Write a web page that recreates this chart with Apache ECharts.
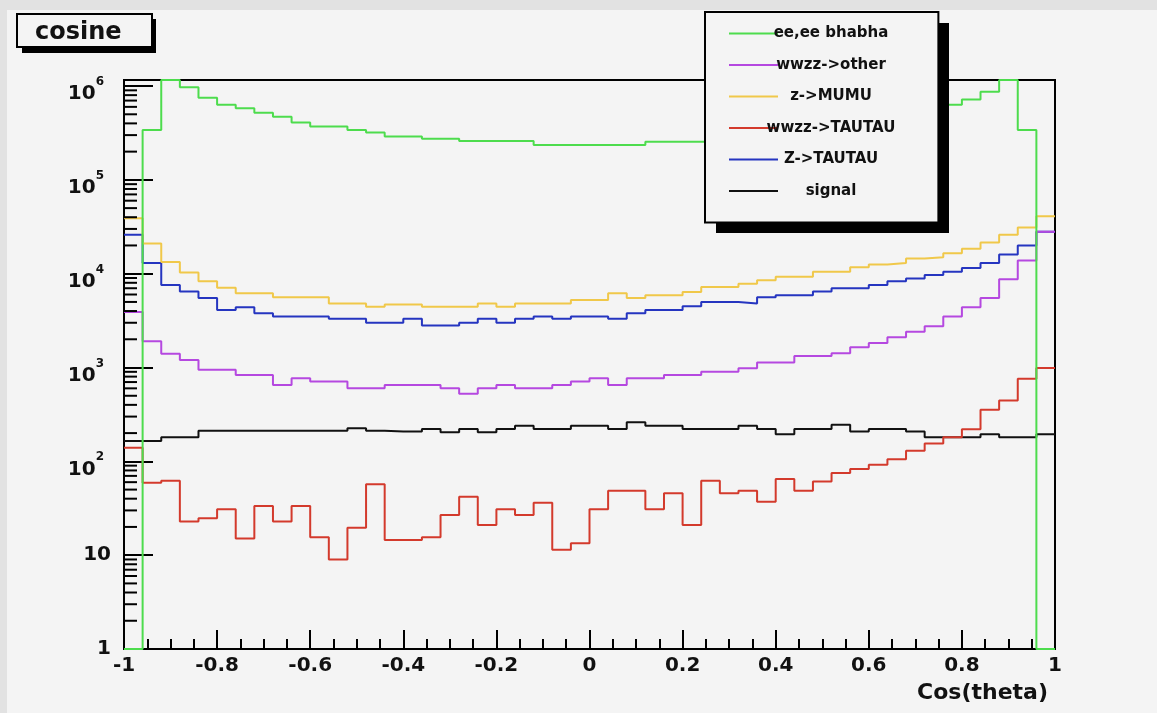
<!DOCTYPE html>
<html>
<head>
<meta charset="utf-8">
<script src="https://cdn.jsdelivr.net/npm/echarts@6/dist/echarts.min.js"></script>
<style>
html,body{margin:0;padding:0;background:#e4e4e4;}
#chart{width:1157px;height:713px;}
</style>
</head>
<body>
<div id="chart"></div>
<script>
// ---- data (50 bins of width 0.04 from -1 to 1) ----
var binEdges = [-1,-0.96,-0.92,-0.88,-0.84,-0.8,-0.76,-0.72,-0.68,-0.64,-0.6,-0.56,-0.52,-0.48,-0.44,-0.4,-0.36,-0.32,-0.28,-0.24,-0.2,-0.16,-0.12,-0.08,-0.04,0,0.04,0.08,0.12,0.16,0.2,0.24,0.28,0.32,0.36,0.4,0.44,0.48,0.52,0.56,0.6,0.64,0.68,0.72,0.76,0.8,0.84,0.88,0.92,0.96,1];

var seriesNames = ['ee,ee bhabha','wwzz->other','z->MUMU','wwzz->TAUTAU','Z->TAUTAU','signal'];

var bhabha = [1,340000,1160000,970000,750000,630000,580000,520000,470000,410000,370000,370000,340000,320000,290000,290000,275000,275000,260000,260000,260000,260000,235000,235000,235000,235000,235000,235000,255000,255000,255000,255000,270000,275000,280000,290000,310000,330000,360000,370000,410000,470000,520000,560000,630000,720000,870000,1160000,340000,1];
var wwzzOther = [3900,1900,1400,1200,945,945,830,830,650,770,710,710,600,600,650,650,650,600,525,600,650,600,600,650,710,770,650,770,770,830,830,900,900,980,1130,1130,1330,1330,1420,1640,1820,2100,2400,2750,3500,4400,5500,8700,13800,28000];
var zMumu = [39000,21000,13300,10300,8300,7100,6200,6200,5600,5600,5600,4800,4800,4450,4700,4700,4450,4450,4450,4800,4450,4800,4800,4800,5250,5250,6200,5500,5900,5900,6400,7200,7200,7800,8500,9300,9300,10500,10500,11700,12500,13000,14500,15000,16500,18500,21500,26000,31000,41000];
var wwzzTautau = [140,59,62,22.8,24.7,30.9,15.1,33.5,22.8,33.5,15.5,9,19.6,57,14.5,14.5,15.5,26.8,42,21,30.9,26.8,36.3,11.4,13.4,30.9,48.7,48.7,30.9,45.7,21,62,45.7,48.7,37,65,48.7,61,75,83,92,105,130,155,181,220,354,444,760,990];
var zTautau = [26000,13000,7600,6450,5500,4100,4400,3800,3500,3500,3500,3300,3300,3000,3000,3300,2800,2800,3000,3300,3000,3300,3500,3300,3500,3500,3300,3800,4100,4100,4500,5000,5000,4800,5600,5900,5900,6450,7000,7000,7600,8300,8900,9700,10500,11500,13000,16000,20000,28000];
var signal = [165,165,181,181,212,212,212,212,212,212,212,212,225,212,208,208,221,204,221,204,221,240,221,221,240,240,221,261,240,240,221,221,221,240,221,195,221,221,245,208,221,221,208,181,181,181,195,181,181,195];

var xTicks = [-1,-0.8,-0.6,-0.4,-0.2,0,0.2,0.4,0.6,0.8,1];
var yMin = 1, yMax = 1160000;
var yMinorTicks = [2,3,4,5,6,7,8,9,20,30,40,50,60,70,80,90,200,300,400,500,600,700,800,900,2000,3000,4000,5000,6000,7000,8000,9000,20000,30000,40000,50000,60000,70000,80000,90000,200000,300000,400000,500000,600000,700000,800000,900000];

var colors = {
  'ee,ee bhabha':'#4ddc4d',
  'wwzz->other':'#b548e0',
  'z->MUMU':'#f0c84a',
  'wwzz->TAUTAU':'#d33a2c',
  'Z->TAUTAU':'#2535c0',
  'signal':'#111111'
};

function histPoints(vals){
  var pts = [];
  for (var i = 0; i < vals.length; i++) pts.push([binEdges[i], vals[i]]);
  pts.push([binEdges[vals.length], vals[vals.length-1]]);
  return pts;
}
function histSeries(name, vals){
  return {
    name: name, type: 'line', step: 'end', symbol: 'none', silent: true,
    data: histPoints(vals),
    lineStyle: {color: colors[name], width: 2},
    itemStyle: {color: colors[name]},
    z: 2
  };
}

var FONT = 'DejaVu Sans';
var chart = echarts.init(document.getElementById('chart'));
chart.setOption({
  animation: false,
  backgroundColor: '#f4f4f4',
  title: {
    text: 'cosine', left: 17, top: 14,
    padding: [4, 31, 0, 18],
    backgroundColor: '#f4f4f4', borderColor: '#000', borderWidth: 2,
    textStyle: {fontFamily: FONT, fontWeight: 'bold', fontSize: 24, color: '#111', lineHeight: 29},
    z: 10
  },
  legend: {
    data: seriesNames, orient: 'vertical', left: 705, top: 12,
    padding: [14, 43, 24, 23],
    itemWidth: 49, itemHeight: 18, itemGap: 16.5,
    selectedMode: false,
    itemStyle: {opacity: 0},
    backgroundColor: '#f4f4f4', borderColor: '#000', borderWidth: 2,
    formatter: function(n){ return '{t|' + n + '}'; },
    textStyle: {rich: {t: {width: 96, align: 'center', fontFamily: FONT, fontWeight: 'bold', fontSize: 15, lineHeight: 18, color: '#111'}}},
    z: 20
  },
  graphic: [
    {type: 'rect', shape: {x: 0, y: 0, width: 7, height: 713}, style: {fill: '#e2e2e2'}, z: 0, silent: true},
    {type: 'rect', shape: {x: 0, y: 0, width: 1157, height: 10}, style: {fill: '#e2e2e2'}, z: 0, silent: true},
    {type: 'rect', shape: {x: 22, y: 19, width: 134, height: 34}, style: {fill: '#000'}, z: 5, silent: true},
    {type: 'rect', shape: {x: 716, y: 23, width: 233, height: 210}, style: {fill: '#000'}, z: 15, silent: true}
  ],
  grid: {left: 124, right: 102, top: 80, bottom: 64, show: true, borderColor: '#000', borderWidth: 2, backgroundColor: 'transparent'},
  xAxis: {
    type: 'value', min: -1, max: 1, interval: 0.2,
    axisLine: {onZero: false, lineStyle: {color: '#000', width: 2}},
    axisTick: {inside: true, length: 19, lineStyle: {color: '#000', width: 2}},
    minorTick: {show: true, splitNumber: 4, length: 10, lineStyle: {color: '#000', width: 2}},
    splitLine: {show: false},
    axisLabel: {margin: 7, fontFamily: FONT, fontWeight: 'bold', fontSize: 20, color: '#111',
      formatter: function(v){ return String(Math.round(v*10)/10); }},
    name: 'Cos(theta)', nameLocation: 'end', nameGap: -7,
    nameTextStyle: {align: 'right', verticalAlign: 'top', padding: [33, 0, 0, 0], fontFamily: FONT, fontWeight: 'bold', fontSize: 22, color: '#111'}
  },
  yAxis: {
    type: 'log', logBase: 10, min: yMin, max: yMax, splitNumber: 6,
    axisLine: {onZero: false, lineStyle: {color: '#000', width: 2}},
    axisTick: {inside: true, length: 29, lineStyle: {color: '#000', width: 2}},
    splitLine: {show: false},
    axisLabel: {
      margin: 13, color: '#111',
      formatter: function(v){
        var e = Math.round(Math.log10(v));
        if (Math.abs(v - Math.pow(10, e)) > 1e-6 * v) return '';
        if (e === 0) return '{n|1}';
        if (e === 1) return '{n|10}';
        return '{p|10}{s|' + e + '}';
      },
      rich: {
        n: {fontFamily: FONT, fontWeight: 'bold', fontSize: 20, lineHeight: 20, color: '#111'},
        p: {fontFamily: FONT, fontWeight: 'bold', fontSize: 20, lineHeight: 20, padding: [8, 0, 0, 0], verticalAlign: 'top', color: '#111'},
        s: {fontFamily: FONT, fontWeight: 'bold', fontSize: 12, lineHeight: 12, padding: [0, 7, 0, 0], verticalAlign: 'top', color: '#111'}
      }
    }
  },
  series: [
    {
      type: 'custom', name: 'yMinor', silent: true, clip: false, z: 3,
      data: yMinorTicks.map(function(v){ return [binEdges[0], v]; }),
      renderItem: function(params, api){
        var p = api.coord([api.value(0), api.value(1)]);
        return {type: 'line', shape: {x1: p[0], y1: p[1], x2: p[0] + 13, y2: p[1]}, style: {stroke: '#000', lineWidth: 2}};
      }
    },
    histSeries('signal', signal),
    histSeries('Z->TAUTAU', zTautau),
    histSeries('wwzz->TAUTAU', wwzzTautau),
    histSeries('z->MUMU', zMumu),
    histSeries('wwzz->other', wwzzOther),
    histSeries('ee,ee bhabha', bhabha)
  ]
});
</script>
</body>
</html>
